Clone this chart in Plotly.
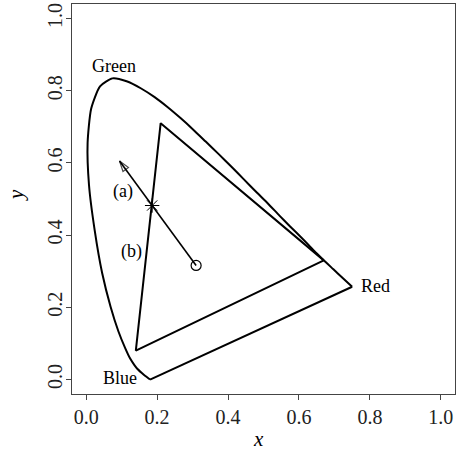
import plotly.graph_objects as go

# Spectral locus (chromaticity x, y)
locus_x = [0.180, 0.165, 0.157, 0.144, 0.136, 0.124, 0.110, 0.091, 0.069, 0.045,
           0.024, 0.008, 0.004, 0.014, 0.039, 0.074, 0.114, 0.155, 0.193, 0.230,
           0.266, 0.302, 0.337, 0.373, 0.409, 0.444, 0.479, 0.513, 0.545, 0.575,
           0.603, 0.627, 0.648, 0.666, 0.692, 0.708, 0.750]
locus_y = [0.000, 0.011, 0.018, 0.030, 0.040, 0.058, 0.087, 0.133, 0.201, 0.295,
           0.413, 0.538, 0.655, 0.750, 0.812, 0.834, 0.826, 0.806, 0.782, 0.754,
           0.724, 0.692, 0.659, 0.625, 0.590, 0.555, 0.520, 0.487, 0.454, 0.424,
           0.397, 0.373, 0.351, 0.334, 0.310, 0.295, 0.257]

# Gamut triangle (red, green, blue primaries)
tri_x = [0.67, 0.21, 0.14, 0.67]
tri_y = [0.33, 0.71, 0.08, 0.33]

# White point, arrow tip and intersection point
white_x, white_y = 0.310, 0.316
tip_x, tip_y = 0.094, 0.605
star_x, star_y = 0.186, 0.482

# Labels
lab_text = ["Green", "Red", "Blue", "(a)", "(b)"]
lab_x = [0.079, 0.815, 0.095, 0.103, 0.129]
lab_y = [0.869, 0.260, 0.004, 0.520, 0.355]

tick_vals = [0.0, 0.2, 0.4, 0.6, 0.8, 1.0]
tick_text = ["0.0", "0.2", "0.4", "0.6", "0.8", "1.0"]

FONT = "Liberation Serif"

fig = go.Figure()
fig.add_trace(go.Scatter(x=locus_x, y=locus_y, mode="lines",
                         line=dict(color="black", width=2, shape="spline", smoothing=0.6),
                         hoverinfo="skip"))
fig.add_trace(go.Scatter(x=[locus_x[-1], locus_x[0]], y=[locus_y[-1], locus_y[0]],
                         mode="lines", line=dict(color="black", width=2), hoverinfo="skip"))
fig.add_trace(go.Scatter(x=tri_x, y=tri_y, mode="lines",
                         line=dict(color="black", width=2), hoverinfo="skip"))
fig.add_trace(go.Scatter(x=[white_x, tip_x], y=[white_y, tip_y], mode="lines+markers",
                         line=dict(color="black", width=1.6, backoff=0),
                         marker=dict(symbol="arrow-open", size=[0, 11], angleref="previous",
                                     color="black", line=dict(color="black", width=1.2)),
                         hoverinfo="skip"))
fig.add_trace(go.Scatter(x=[white_x], y=[white_y], mode="markers",
                         marker=dict(symbol="circle-open", size=10, color="black",
                                     line=dict(color="black", width=1.2)),
                         hoverinfo="skip"))
fig.add_trace(go.Scatter(x=[star_x], y=[star_y], mode="markers",
                         marker=dict(symbol="asterisk-open", size=12, color="black",
                                     line=dict(color="black", width=1)),
                         hoverinfo="skip"))

for t, x, y in zip(lab_text, lab_x, lab_y):
    fig.add_annotation(x=x, y=y, text=t, showarrow=False, xanchor="center", yanchor="middle",
                       font=dict(family=FONT, size=18, color="black"))

fig.add_annotation(xref="paper", yref="paper", x=0.486, y=0, yshift=-45, text="<i>x</i>",
                   showarrow=False, xanchor="center", yanchor="middle", height=22,
                   font=dict(family=FONT, size=21, color="black"))
fig.add_annotation(xref="paper", yref="paper", x=0, xshift=-56, y=0.51, text="<i>y</i>",
                   showarrow=False, xanchor="center", yanchor="middle", textangle=-90,
                   font=dict(family=FONT, size=21, color="black"))

axis_common = dict(range=[-0.04, 1.04], tickvals=tick_vals, ticktext=tick_text,
                   showgrid=False, zeroline=False, showline=True, mirror=True,
                   linecolor="#444", linewidth=1, ticks="outside", ticklen=5,
                   tickcolor="#444", automargin=False,
                   tickfont=dict(family=FONT, size=20, color="#222"))

fig.update_layout(
    width=458, height=450,
    margin=dict(l=72, r=3, t=4, b=56),
    plot_bgcolor="white", paper_bgcolor="white",
    showlegend=False,
    xaxis=dict(**axis_common),
    yaxis=dict(**axis_common, tickangle=-90, ticklabelstandoff=-4),
)

fig.write_html("out.html", config={"displayModeBar": False},
               post_script="document.body.style.margin='0px';")
